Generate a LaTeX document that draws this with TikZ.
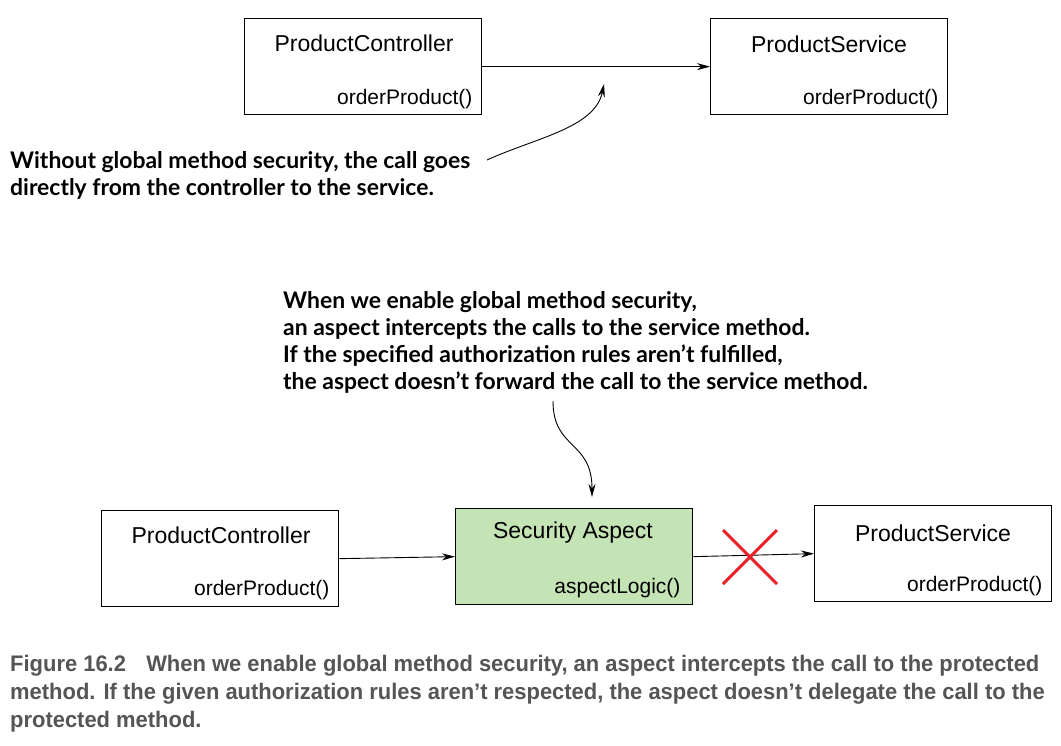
\documentclass[tikz,border=0pt]{standalone}
\usepackage{fontspec}
\setmainfont{Liberation Sans}
\newfontfamily\notefont{Lato}
\newfontfamily\capfont[FakeStretch=0.975]{Liberation Sans}
\usetikzlibrary{arrows.meta,calc}
\definecolor{aspectgreen}{RGB}{197,228,181}
\definecolor{captiongray}{RGB}{85,85,85}
\definecolor{crossred}{RGB}{230,35,42}

\begin{document}
\begin{tikzpicture}[x=1pt,y=-1pt]
  \tikzstyle{every node}=[font=\fontsize{23}{27}\selectfont]
  \tikzstyle{box}=[draw,line width=1.3pt,minimum width=237pt,minimum height=96pt,inner sep=0pt,anchor=north west]
  \tikzstyle{method}=[anchor=east,font=\fontsize{21}{25}\selectfont]
  \tikzstyle{note}=[font=\notefont\bfseries\fontsize{22.9}{27}\selectfont,align=left,anchor=north west,inner sep=0pt]
  \tikzstyle{call}=[-{Stealth[length=13pt,width=7pt]},line width=0.9pt]
  \useasboundingbox (0,0) rectangle (1061,745);

 % without global method security
 \node[box] (pc1) at (244,18) {};
 \node[box] (ps1) at (710,18) {};
 \node (pc1t) at (364,43) {ProductController};
 \node[method] (pc1m) at (476,99) {orderProduct()};
 \node (ps1t) at (829,44) {ProductService};
 \node[method] (ps1m) at (942,99) {orderProduct()};
 \draw[call] (pc1.east) -- (ps1.west);

 \node[note] (note1) at (10,151) {Without global method security, the call goes\\directly from the controller to the service.};
 \coordinate (note1end) at (487,160);
 \coordinate (call1) at (604,84);
 \draw[call] (note1end) .. controls (535,138) and (595,128) .. (call1);

 % with global method security
 \node[note] (note2) at (283,291) {When we enable global method security,\\an aspect intercepts the calls to the service method.\\If the specified authorization rules aren’t fulfilled,\\the aspect doesn’t forward the call to the service method.};
 \coordinate (note2end) at (553,401);
 \coordinate (call2) at (592,497);
 \draw[call] (note2end) .. controls (553,450) and (592,440) .. (call2);

 \node[box] (pc2) at (101,510) {};
 \node[box,fill=aspectgreen] (sa) at (455,508) {};
 \node[box] (ps2) at (814,505) {};
 \node (pc2t) at (221,535) {ProductController};
 \node[method] (pc2m) at (333,590) {orderProduct()};
 \node (sat) at (573,533) {Security Aspect};
 \node[method] (sam) at (684,588) {aspectLogic()};
 \node (ps2t) at (933,533) {ProductService};
 \node[method] (ps2m) at (1046,586) {orderProduct()};
 \draw[call] (pc2.east) -- (sa.west);
 \draw[call] (sa.east) -- (ps2.west);

 % blocked call
 \coordinate (cross) at (750,557);
 \draw[crossred,line width=3pt] ($(cross)+(-27,-27)$) -- ($(cross)+(27,27)$);
 \draw[crossred,line width=3pt] ($(cross)+(27,-27)$) -- ($(cross)+(-27,27)$);

 % caption
 \node[anchor=north west,align=left,inner sep=0pt,text=captiongray,font=\capfont\bfseries\fontsize{22.5}{28}\selectfont] (caption) at (10,655)
  {Figure 16.2\hspace{0.9em}When we enable global method security, an aspect intercepts the call to the protected\\
   method. If the given authorization rules aren’t respected, the aspect doesn’t delegate the call to the\\
   protected method.};
\end{tikzpicture}
\end{document}
